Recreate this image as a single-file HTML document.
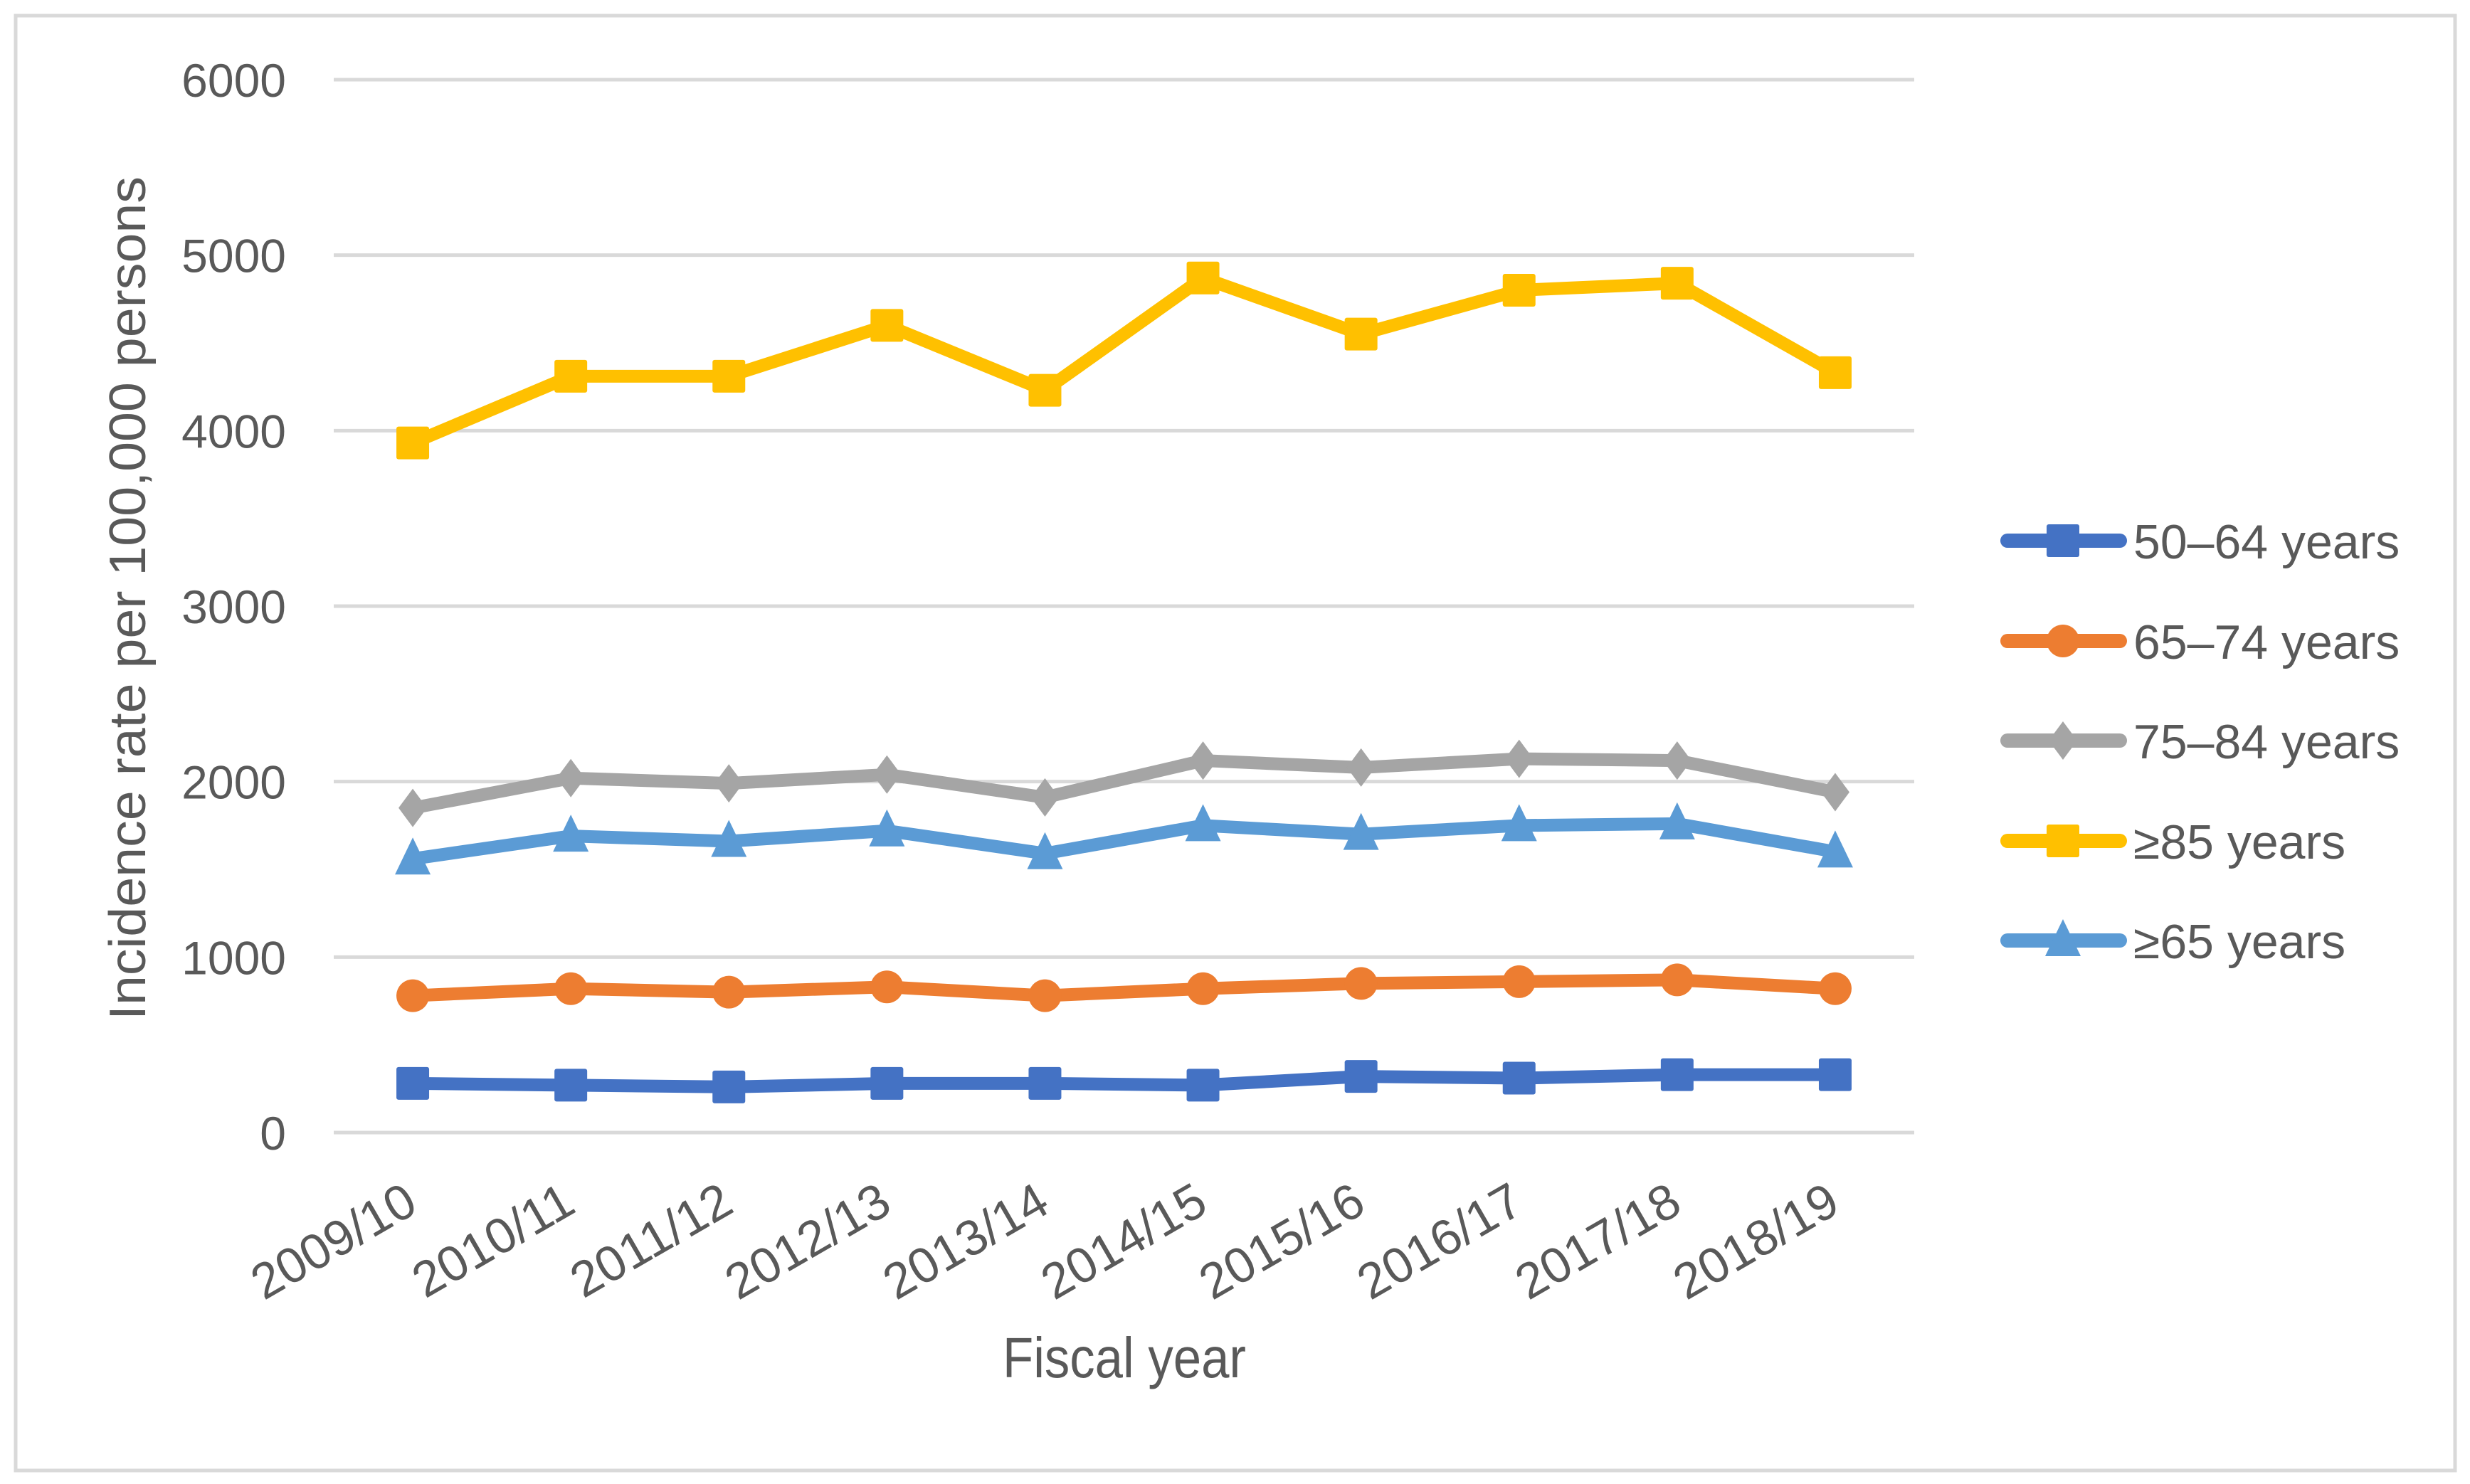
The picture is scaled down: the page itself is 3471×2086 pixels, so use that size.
<!DOCTYPE html>
<html><head><meta charset="utf-8"><style>
html,body{margin:0;padding:0;background:#fff;}
svg{display:block;font-family:"Liberation Sans",sans-serif;}
</style></head><body>
<svg id="chart" width="3471" height="2086" viewBox="0 0 3471 2086" xmlns="http://www.w3.org/2000/svg">
<rect x="22" y="22" width="3428" height="2045" fill="#fff" stroke="#d9d9d9" stroke-width="5"/>
<g id="grid"></g>
<g id="yticks"></g>
<g id="xticks"></g>
<g id="series"></g>
<g id="legend"></g>
<text x="0" y="0" transform="translate(204,841) rotate(-90)" text-anchor="middle" font-size="72" fill="#595959" textLength="1186" lengthAdjust="spacingAndGlyphs">Incidence rate per 100,000 persons</text>
<text x="1580" y="1936" text-anchor="middle" font-size="80" fill="#595959" textLength="342" lengthAdjust="spacingAndGlyphs">Fiscal year</text>
</svg>
<script>
const categories = ["2009/10","2010/11","2011/12","2012/13","2013/14","2014/15","2015/16","2016/17","2017/18","2018/19"];
const yTicks = [0,1000,2000,3000,4000,5000,6000];
const s5064 = [280,270,260,280,280,270,320,310,330,330];
const s6574 = [780,820,800,830,780,820,850,860,870,820];
const s7584 = [1850,2020,1990,2040,1910,2120,2080,2130,2120,1940];
const s85 = [3930,4310,4310,4600,4230,4870,4550,4800,4840,4330];
const s65 = [1560,1690,1660,1720,1590,1750,1700,1750,1760,1600];
const seriesNames = ["50–64 years","65–74 years","75–84 years","≥85 years","≥65 years"];

const NS="http://www.w3.org/2000/svg";
const L=469,R=2690,T=112,B=1592,YMAX=6000;
function xs(i){return L+(R-L)/categories.length*(i+0.5);}
function ys(v){return B-(B-T)*v/YMAX;}
function mk(tag,attrs,parent){const e=document.createElementNS(NS,tag);for(const k in attrs)e.setAttribute(k,attrs[k]);parent.appendChild(e);return e;}

const grid=document.getElementById('grid'),yt=document.getElementById('yticks'),xt=document.getElementById('xticks');
yTicks.forEach(v=>{
  const g=mk('line',{x1:L,x2:R,y1:ys(v),y2:ys(v),stroke:'#d9d9d9','stroke-width':5},grid);
  
  
  const t=mk('text',{x:402,y:ys(v)+24,'text-anchor':'end','font-size':66,fill:'#595959'},yt);
  t.textContent=v;
  
  
});
categories.forEach((c,i)=>{
  const x=xs(i)+10,y=1702;
  const t=mk('text',{x:0,y:0,transform:`translate(${x},${y}) rotate(-30)`,'text-anchor':'end','font-size':70,fill:'#595959'},xt);
  t.textContent=c;
  
  
});

function marker(type,cx,cy,color,parent){
  let e;
  if(type==='square') e=mk('rect',{x:cx-23,y:cy-23,width:46,height:46,rx:3,fill:color},parent);
  else if(type==='circle') e=mk('circle',{cx:cx,cy:cy,r:23,fill:color},parent);
  else if(type==='diamond') e=mk('polygon',{points:`${cx},${cy-27} ${cx+20},${cy} ${cx},${cy+27} ${cx-20},${cy}`,fill:color},parent);
  else e=mk('polygon',{points:`${cx},${cy-30} ${cx+25},${cy+22} ${cx-25},${cy+22}`,fill:color,'stroke-linejoin':'round'},parent);
  return e;
}
const sdefs=[
  {vals:s5064,color:'#4472c4',m:'square',name:'series-50-64'},
  {vals:s6574,color:'#ed7d31',m:'circle',name:'series-65-74'},
  {vals:s7584,color:'#a5a5a5',m:'diamond',name:'series-75-84'},
  {vals:s85,color:'#ffc000',m:'square',name:'series-85-plus'},
  {vals:s65,color:'#5b9bd5',m:'triangle',name:'series-65-plus'}
];
const sg=document.getElementById('series');
[3,2,4,1,0].forEach(k=>{
  const s=sdefs[k];
  const g=mk('g',{},sg);
  
  
  const p=mk('polyline',{points:s.vals.map((v,i)=>xs(i)+','+ys(v)).join(' '),fill:'none',stroke:s.color,'stroke-width':18,'stroke-linejoin':'round','stroke-linecap':'round'},g);
  
  
  s.vals.forEach((v,i)=>{
    const m=marker(s.m,xs(i),ys(v),s.color,g);
    
    
  });
});
const lg=document.getElementById('legend');
const ly=[760,901,1041,1182,1322];
sdefs.forEach((s,k)=>{
  const g=mk('g',{},lg);
  
  
  mk('line',{x1:2821,x2:2979,y1:ly[k],y2:ly[k],stroke:s.color,'stroke-width':20,'stroke-linecap':'round'},g);
  marker(s.m,2899,ly[k],s.color,g);
  const t=mk('text',{x:2998,y:ly[k]+25,'font-size':68,fill:'#595959'},g);
  t.textContent=seriesNames[k];
  
  
});
</script>
</body></html>
